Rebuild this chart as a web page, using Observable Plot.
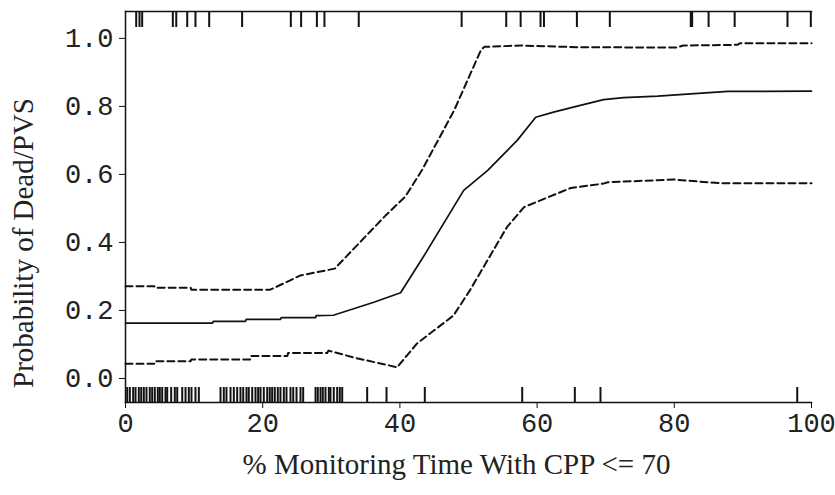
<!DOCTYPE html>
<html>
<head>
<meta charset="utf-8">
<script src="https://cdn.jsdelivr.net/npm/d3@7"></script>
<script src="https://cdn.jsdelivr.net/npm/@observablehq/plot@0.6"></script>
<style>
  html, body { margin: 0; padding: 0; background: #fff; }
  #chart svg { display: block; }
  #chart g[aria-label="x-axis tick label"] text,
  #chart g[aria-label="y-axis tick label"] text { font-family: "Liberation Mono", monospace; font-size: 27px; fill: #222; }
</style>
</head>
<body>
<div id="chart"></div>
<script>
// ---- data ----
const xTitle = "% Monitoring Time With CPP <= 70";
const yTitle = "Probability of Dead/PVS";
const xTicks = [0, 20, 40, 60, 80, 100];
const yTicks = [0, 0.2, 0.4, 0.6, 0.8, 1.0];

// fitted probability (solid)
const fitX = [0, 12.7, 12.8, 17.5, 17.6, 22.6, 22.7, 27.7, 27.8, 30.3, 36.2, 40.1, 43.4, 49.3, 52.8, 57.1, 59.8, 62.4, 66.3, 69.7, 72.6, 77.6, 82.4, 87.8, 100];
const fitY = [0.163, 0.163, 0.168, 0.168, 0.174, 0.174, 0.179, 0.179, 0.185, 0.186, 0.224, 0.252, 0.357, 0.553, 0.612, 0.700, 0.768, 0.783, 0.803, 0.820, 0.826, 0.830, 0.837, 0.844, 0.845];

// upper confidence limit (dashed)
const upX = [0, 4.2, 4.3, 9.5, 9.6, 21.1, 25.5, 30.5, 37.9, 40.8, 43.2, 47.9, 51.8, 52.3, 57.6, 65.9, 80.4, 81.3, 89.2, 89.6, 100];
const upY = [0.271, 0.271, 0.267, 0.267, 0.261, 0.261, 0.303, 0.323, 0.479, 0.535, 0.612, 0.788, 0.965, 0.975, 0.979, 0.974, 0.973, 0.979, 0.981, 0.986, 0.986];

// lower confidence limit (dashed)
const loX = [0, 4.2, 4.3, 9.5, 9.6, 18.2, 18.3, 23.6, 23.7, 29.4, 29.6, 33.2, 39.6, 42.5, 47.8, 50.2, 55.6, 58.1, 64.9, 69.7, 70.3, 79.9, 84.8, 86.7, 100];
const loY = [0.043, 0.043, 0.051, 0.051, 0.056, 0.056, 0.066, 0.066, 0.075, 0.075, 0.082, 0.062, 0.033, 0.103, 0.185, 0.259, 0.445, 0.504, 0.560, 0.573, 0.577, 0.585, 0.577, 0.574, 0.574];

// rug: observations with outcome = 1 (top) and outcome = 0 (bottom)
const rugTop = [1.56, 2.04, 2.43, 6.9, 7.4, 9.0, 10.2, 12.2, 17.0, 24.1, 25.6, 27.9, 29.0, 34.0, 49.0, 55.5, 57.6, 60.5, 61.0, 65.8, 70.6, 82.4, 82.6, 85.0, 88.8, 96.5, 99.9];
const rugBottom = [0.25, 0.63, 1.12, 1.46, 1.94, 2.29, 2.67, 3.06, 3.54, 3.89, 4.27, 4.71, 5.0, 5.35, 5.83, 6.08, 6.66, 7.19, 7.54, 8.27, 8.75, 9.23, 9.62, 10.2, 10.69,
  13.85, 14.33, 14.72, 15.31, 15.79, 16.28, 16.76, 17.16, 17.64, 17.97, 18.47, 18.95, 19.34, 19.68, 20.16, 20.66, 21.03, 21.38, 21.76, 22.2, 22.59, 23.08, 23.47, 24.05, 24.45, 24.93, 25.51, 25.9,
  27.7, 28.03, 28.43, 28.76, 29.15, 29.64, 29.88, 30.36, 30.86, 31.24, 31.59, 35.23, 38.05, 43.63, 57.83, 65.5, 69.24, 97.92];

// ---- tables ----
const fit = fitX.map((x, i) => ({x, y: fitY[i]}));
const upper = upX.map((x, i) => ({x, y: upY[i]}));
const lower = loX.map((x, i) => ({x, y: loY[i]}));

const innerH = 495 - 11 - 93;
const serif = "Liberation Serif, Times New Roman, serif";

const chart = Plot.plot({
  width: 835,
  height: 495,
  marginLeft: 125,
  marginRight: 24,
  marginTop: 11,
  marginBottom: 93,
  style: {background: "#fff", color: "#111", fontFamily: "Liberation Mono, monospace", fontSize: "27px"},
  x: {domain: [0, 100], ticks: xTicks, tickFormat: d => String(d), tickSize: 6, tickPadding: 4, label: null},
  y: {domain: [-0.0706, 1.079], ticks: yTicks, tickFormat: d3.format(".1f"), tickSize: 6, tickPadding: 6, label: null},
  marks: [
    Plot.frame({anchor: "top", stroke: "#111", strokeWidth: 1.5}),
    Plot.frame({anchor: "left", stroke: "#111", strokeWidth: 1.5}),
    Plot.frame({anchor: "bottom", stroke: "#111", strokeWidth: 1.5}),
    Plot.line(upper, {x: "x", y: "y", stroke: "#111", strokeWidth: 2, strokeDasharray: "7,4"}),
    Plot.line(lower, {x: "x", y: "y", stroke: "#111", strokeWidth: 2, strokeDasharray: "7,4"}),
    Plot.line(fit, {x: "x", y: "y", stroke: "#111", strokeWidth: 1.7}),
    Plot.ruleX(rugTop, {x: d => d, stroke: "#111", strokeWidth: 2, insetBottom: innerH - 16}),
    Plot.ruleX(rugBottom, {x: d => d, stroke: "#111", strokeWidth: 2, insetTop: innerH - 15}),
    Plot.text([xTitle], {frameAnchor: "bottom", textAnchor: "middle", dx: -12, dy: 71, text: d => d, fontFamily: serif, fontSize: 29, fill: "#222"}),
    Plot.text([yTitle], {frameAnchor: "left", textAnchor: "middle", rotate: -90, dx: -102, dy: 36, text: d => d, fontFamily: serif, fontSize: 29, fill: "#222"})
  ]
});
document.getElementById("chart").appendChild(chart);
</script>
</body>
</html>
